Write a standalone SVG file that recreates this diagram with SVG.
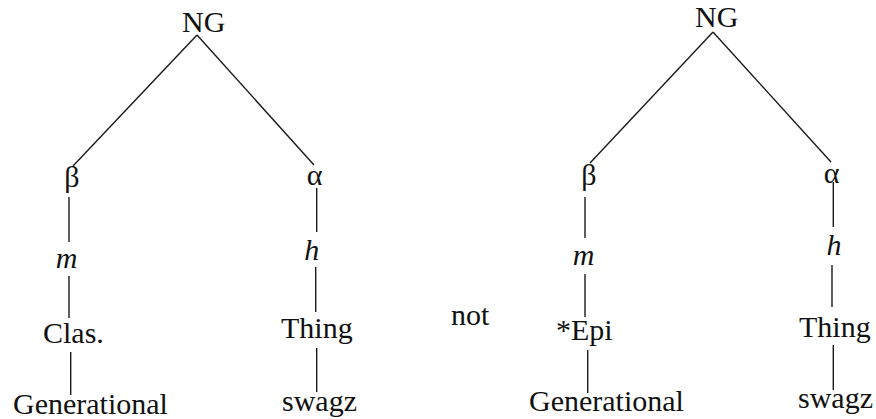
<svg xmlns="http://www.w3.org/2000/svg" width="876" height="419" viewBox="0 0 876 419">
<style>
text{font-size:30px;fill:#111}
line{stroke:#1a1a1a;stroke-width:1.4;fill:none}
</style>
<rect width="876" height="419" fill="#fff"/>
<g id="connectors">
<line x1="197" y1="35" x2="73" y2="166"/>
<line x1="197" y1="35" x2="314" y2="165"/>
<line x1="69" y1="197" x2="69" y2="242"/>
<line x1="69" y1="276" x2="69" y2="318"/>
<line x1="70.7" y1="352" x2="70.7" y2="395"/>
<line x1="316.7" y1="188" x2="316.7" y2="232"/>
<line x1="315.7" y1="267" x2="315.7" y2="312"/>
<line x1="316.7" y1="348" x2="316.7" y2="392"/>
<line x1="713" y1="32" x2="590" y2="163"/>
<line x1="713" y1="32" x2="831" y2="162"/>
<line x1="585" y1="197" x2="585" y2="238"/>
<line x1="585" y1="274" x2="585" y2="317"/>
<line x1="587.7" y1="350" x2="587.7" y2="393"/>
<line x1="833.3" y1="182" x2="833.3" y2="227"/>
<line x1="832" y1="265" x2="832" y2="307"/>
<line x1="833.3" y1="345" x2="833.3" y2="390"/>
</g>
<g id="ng-left"><text x="182" y="32" font-family="Liberation Serif">NG</text></g>
<g id="beta-left"><text x="72" y="187" text-anchor="middle" font-family="Liberation Serif">β</text></g>
<g id="m-left"><text x="66.7" y="268" text-anchor="middle" font-style="italic" font-family="Liberation Serif">m</text></g>
<g id="clas-left"><text x="43" y="343" font-family="Liberation Serif">Clas.</text></g>
<g id="gen-left"><text x="13" y="414" font-family="Liberation Serif">Generational</text></g>
<g id="alpha-left"><text x="314.7" y="185" text-anchor="middle" font-family="Liberation Serif">α</text></g>
<g id="h-left"><text x="311.7" y="260" text-anchor="middle" font-style="italic" font-family="Liberation Serif">h</text></g>
<g id="thing-left"><text x="281" y="338" font-family="Liberation Serif">Thing</text></g>
<g id="swagz-left"><text x="282" y="411" font-family="Liberation Serif">swagz</text></g>
<g id="not"><text x="451" y="325" font-family="Liberation Serif">not</text></g>
<g id="ng-right"><text x="695" y="27" font-family="Liberation Serif">NG</text></g>
<g id="beta-right"><text x="589" y="185" text-anchor="middle" font-family="Liberation Serif">β</text></g>
<g id="m-right"><text x="583.5" y="265" text-anchor="middle" font-style="italic" font-family="Liberation Serif">m</text></g>
<g id="epi-right"><text x="556" y="340" font-family="Liberation Serif">*Epi</text></g>
<g id="gen-right"><text x="529" y="411" font-family="Liberation Serif">Generational</text></g>
<g id="alpha-right"><text x="831.5" y="183" text-anchor="middle" font-family="Liberation Serif">α</text></g>
<g id="h-right"><text x="834" y="255" text-anchor="middle" font-style="italic" font-family="Liberation Serif">h</text></g>
<g id="thing-right"><text x="799" y="336.5" font-family="Liberation Serif">Thing</text></g>
<g id="swagz-right"><text x="798" y="408" font-family="Liberation Serif">swagz</text></g>
</svg>
